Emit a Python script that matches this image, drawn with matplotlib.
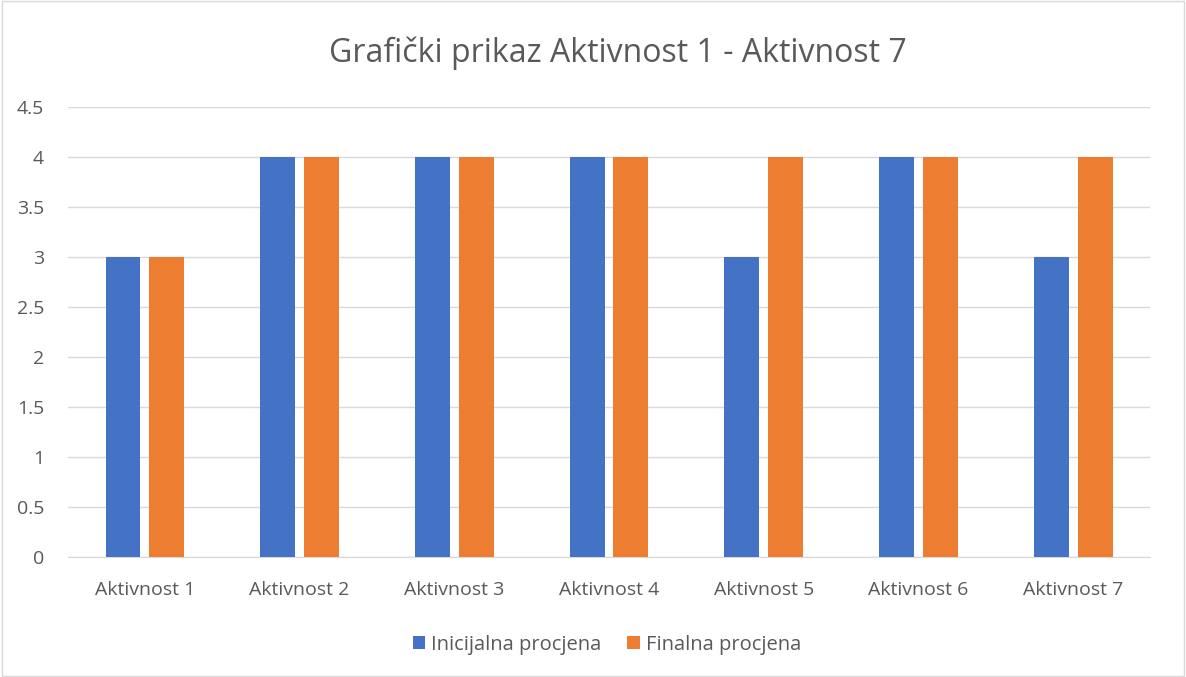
import numpy as np
import matplotlib.pyplot as plt
from matplotlib.patches import Rectangle

plt.rcParams['font.family'] = ['Open Sans', 'DejaVu Sans']

categories = ["Aktivnost 1", "Aktivnost 2", "Aktivnost 3", "Aktivnost 4",
              "Aktivnost 5", "Aktivnost 6", "Aktivnost 7"]
inicijalna = [3, 4, 4, 4, 3, 4, 3]
finalna = [3, 4, 4, 4, 4, 4, 4]
yticks = [0, 0.5, 1, 1.5, 2, 2.5, 3, 3.5, 4, 4.5]

blue = "#4472C4"
orange = "#ED7D31"
txt = "#595959"

fig = plt.figure(figsize=(11.86, 6.77), dpi=100)
ax = fig.add_axes([0.057, 0.177, 0.913, 0.665])

x = np.arange(len(categories))
w = 0.226
ax.bar(x - 0.142, inicijalna, w, color=blue, label="Inicijalna procjena", zorder=3)
ax.bar(x + 0.142, finalna, w, color=orange, label="Finalna procjena", zorder=3)

ax.set_xlim(-0.5, len(categories) - 0.5)
ax.set_ylim(0, 4.5)
ax.set_yticks(yticks)
ax.set_yticklabels([f"{t:g}" for t in yticks])
ax.set_xticks(x)
ax.set_xticklabels(categories)
ax.tick_params(axis='both', length=0, labelsize=14, colors=txt)
ax.tick_params(axis='x', pad=17)
ax.tick_params(axis='y', pad=17)
ax.yaxis.grid(True, color="#D9D9D9", linewidth=1, zorder=0)
for s in ["top", "right", "left"]:
    ax.spines[s].set_visible(False)
ax.spines["bottom"].set_color("#D9D9D9")

fig.text(0.521, 0.922, "Grafički prikaz Aktivnost 1 - Aktivnost 7",
         ha="center", va="center", fontsize=23, color=txt)

ax.legend(loc="center", bbox_to_anchor=(0.498, -0.194), ncol=2, frameon=False,
          fontsize=14.5, labelcolor=txt, handlelength=0.6, handleheight=0.6,
          columnspacing=1.3, handletextpad=0.3)

fig.patches.append(Rectangle((0.002, 0.002), 0.996, 0.996, transform=fig.transFigure,
                             fill=False, edgecolor="#D9D9D9", linewidth=1))

fig.savefig("out.png", dpi=100)
